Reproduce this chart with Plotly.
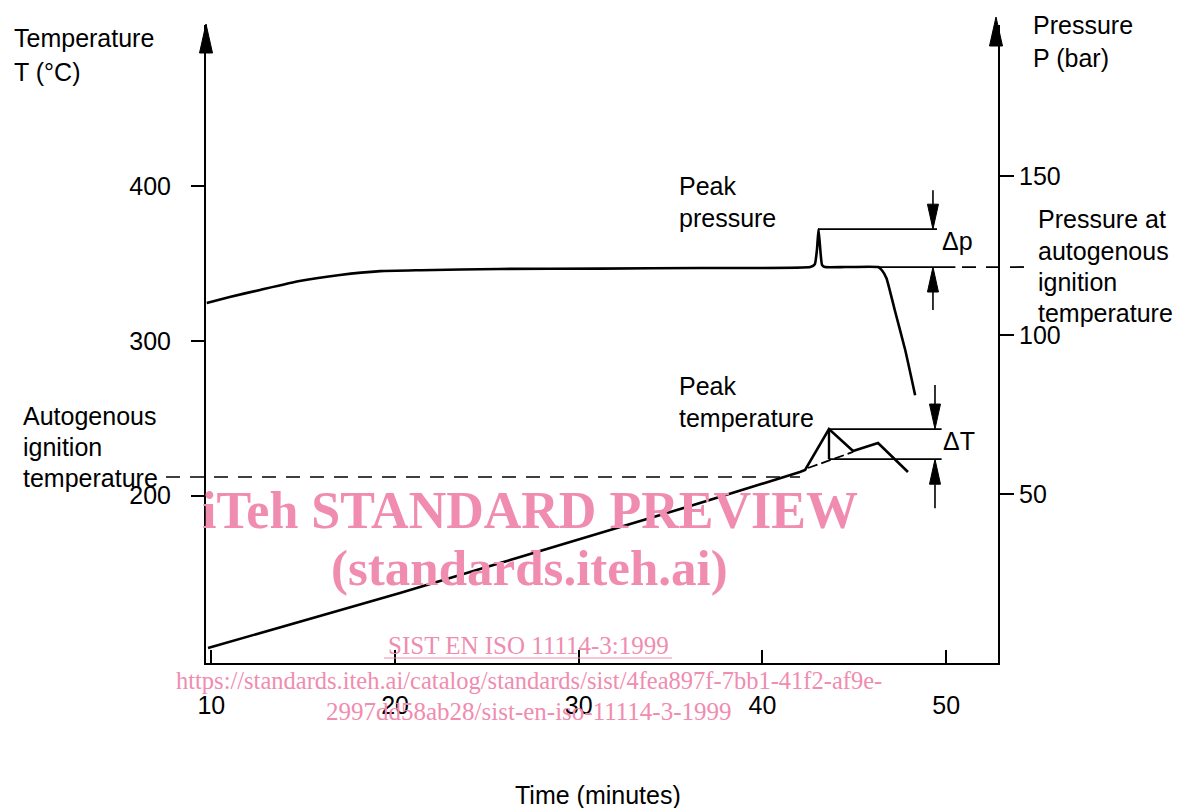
import plotly.graph_objects as go

# ---------------- data ----------------
time_pressure = [9.75, 11.0, 12.65, 14.8, 17.0, 19.2, 21.4, 25.7, 31.2, 36.6, 42.6, 42.85, 42.97, 43.05, 43.13, 43.24, 43.4, 44.5, 46.3, 46.5, 46.75, 47.2, 47.77, 48.31]
pressure_bar = [110.0, 111.9, 114.1, 116.9, 118.8, 120.0, 120.3, 120.7, 120.8, 121.0, 121.3, 122.2, 127.0, 133.2, 128.0, 122.0, 121.3, 121.3, 121.3, 120.3, 117.8, 107.8, 95.2, 81.0]

time_temp = [9.82, 12.65, 14.83, 20.27, 25.72, 31.16, 36.6, 42.04, 42.32, 43.62, 44.93, 46.29, 47.92]
temp_c = [101.3, 111.0, 118.1, 136.9, 156.3, 175.7, 195.1, 215.2, 216.5, 243.0, 228.8, 234.0, 215.2]

extrap_time = [42.48, 44.93]
extrap_temp = [217.8, 228.2]

peak_time = 43.62
peak_pressure = 133.2
pressure_at_ignition = 121.3
peak_temp = 243.0
temp_at_ignition = 223.5
autogenous_ignition_temp = 212.0

x_ticks = [10, 20, 30, 40, 50]
t_ticks = [200, 300, 400]
p_ticks = [50, 100, 150]

# ---------------- layout geometry ----------------
OFF = 8  # page body margin
W, H = 1184 - OFF, 808 - OFF
L, R, T, B = 206 - OFF, 998 - OFF, 25 - OFF, 663 - OFF
x_range = [9.71, 52.82]
t_range = [91.6, 504.5]
p_range = [-3.2, 197.4]

def px(xp):
    return (xp - OFF - L) / (R - L)

def py(yp):
    return (B - (yp - OFF)) / (B - T)

x_per_px = (x_range[1] - x_range[0]) / (R - L)
t_per_px = (t_range[1] - t_range[0]) / (B - T)
p_per_px = (p_range[1] - p_range[0]) / (B - T)

BLACK = "black"
PINK = "rgb(240,140,176)"
FONT = "Liberation Sans, Arial, sans-serif"
SERIF = "Liberation Serif, Times New Roman, serif"

fig = go.Figure()

fig.add_trace(go.Scatter(x=time_pressure, y=pressure_bar, yaxis="y2", mode="lines",
                         line=dict(color=BLACK, width=2.6, shape="spline", smoothing=0.4),
                         showlegend=False, hoverinfo="skip"))
fig.add_trace(go.Scatter(x=time_temp, y=temp_c, mode="lines",
                         line=dict(color=BLACK, width=2.6),
                         showlegend=False, hoverinfo="skip"))
fig.add_trace(go.Scatter(x=extrap_time, y=extrap_temp, mode="lines",
                         line=dict(color=BLACK, width=1.8, dash="10px,4px"),
                         showlegend=False, hoverinfo="skip"))

shapes = []
ln = dict(color=BLACK, width=1.8)

# peak pressure / pressure at ignition lines
x_dp = 49.28
shapes.append(dict(type="line", xref="x", yref="y2", x0=43.02, x1=49.5,
                   y0=peak_pressure, y1=peak_pressure, line=ln))
shapes.append(dict(type="line", xref="x", yref="y2", x0=43.4, x1=50.5,
                   y0=pressure_at_ignition, y1=pressure_at_ignition, line=ln))
# dashed continuation beyond right axis
shapes.append(dict(type="line", xref="paper", yref="y2", x0=px(962), x1=px(1030),
                   y0=pressure_at_ignition, y1=pressure_at_ignition,
                   line=dict(color=BLACK, width=1.8, dash="14px,10px")))

# peak temperature / temperature at ignition lines
x_dt = 49.39
shapes.append(dict(type="line", xref="x", yref="y", x0=peak_time, x1=49.75,
                   y0=peak_temp, y1=peak_temp, line=ln))
shapes.append(dict(type="line", xref="x", yref="y", x0=peak_time, x1=49.75,
                   y0=temp_at_ignition, y1=temp_at_ignition, line=ln))
shapes.append(dict(type="line", xref="x", yref="y", x0=peak_time, x1=peak_time,
                   y0=peak_temp, y1=temp_at_ignition, line=dict(color=BLACK, width=2.4)))

# autogenous ignition temperature dashed leader
shapes.append(dict(type="line", xref="paper", yref="y", x0=px(166), x1=px(800),
                   y0=autogenous_ignition_temp, y1=autogenous_ignition_temp,
                   line=dict(color=BLACK, width=1.6, dash="14px,10px")))

def arrow(x, tip, direction, per_px, yref, shaft):
    """filled narrow triangle; direction -1 means pointing down"""
    hw = 5.5 * x_per_px
    base = tip - direction * 25 * per_px
    end = tip - direction * shaft * per_px
    shapes.append(dict(type="line", xref="x", yref=yref, x0=x, x1=x, y0=base, y1=end,
                       line=dict(color=BLACK, width=1.6)))
    shapes.append(dict(type="path", xref="x", yref=yref,
                       path=f"M{x - hw},{base} L{x + hw},{base} L{x},{tip} Z",
                       fillcolor=BLACK, line=dict(color=BLACK, width=1)))

arrow(x_dp, peak_pressure, -1, p_per_px, "y2", 39)
arrow(x_dp, pressure_at_ignition, 1, p_per_px, "y2", 43)
arrow(x_dt, peak_temp, -1, t_per_px, "y", 44)
arrow(x_dt, temp_at_ignition, 1, t_per_px, "y", 49)

# axis top arrows
def top_arrow(xc, tip_y, base_y):
    hw = 6.5 / (R - L)
    shapes.append(dict(type="path", xref="paper", yref="paper",
                       path=f"M{px(xc) - hw},{py(base_y)} L{px(xc) + hw},{py(base_y)} L{px(xc)},{py(tip_y)} Z",
                       fillcolor=BLACK, line=dict(color=BLACK, width=1)))
    shapes.append(dict(type="line", xref="paper", yref="paper", x0=px(xc), x1=px(xc),
                       y0=py(base_y), y1=1, line=dict(color=BLACK, width=2)))

top_arrow(206, 24, 53)
top_arrow(996, 17, 46)

# underline for watermark line
shapes.append(dict(type="line", xref="paper", yref="paper", x0=px(384), x1=px(672),
                   y0=py(658), y1=py(658), line=dict(color=PINK, width=1.2)))

annotations = []

def txt(s, x, y, size=25, anchor="left", color=BLACK, family=FONT):
    annotations.append(dict(text=s, x=px(x), y=py(y), xref="paper", yref="paper",
                            xanchor=anchor, yanchor="middle", showarrow=False,
                            font=dict(size=size, color=color, family=family)))

txt("Temperature", 12, 38)
txt("T (°C)", 12, 72)
txt("Pressure", 1031, 25)
txt("P (bar)", 1031, 58)
txt("Peak", 677, 186)
txt("pressure", 677, 218)
txt("Peak", 677, 386)
txt("temperature", 677, 418)
txt("Pressure at", 1036, 219)
txt("autogenous", 1036, 251)
txt("ignition", 1036, 282)
txt("temperature", 1036, 313)
txt("Autogenous", 21, 416)
txt("ignition", 21, 447)
txt("temperature", 21, 478)
txt("Δp", 940, 241)
txt("ΔT", 941, 441)
txt("Time (minutes)", 598, 795, anchor="center")

# watermark
txt("<b>iTeh STANDARD PREVIEW</b>", 530, 510, size=52, anchor="center", color=PINK, family=SERIF)
txt("<b>(standards.iteh.ai)</b>", 529, 568, size=51, anchor="center", color=PINK, family=SERIF)
txt("SIST EN ISO 11114-3:1999", 528, 645, size=25, anchor="center", color=PINK, family=SERIF)
txt("https://standards.iteh.ai/catalog/standards/sist/4fea897f-7bb1-41f2-af9e-", 529, 680,
    size=24.5, anchor="center", color=PINK, family=SERIF)
txt("2997dd58ab28/sist-en-iso-11114-3-1999", 529, 711, size=25, anchor="center", color=PINK, family=SERIF)

tickfont = dict(size=25, color=BLACK, family=FONT)

fig.update_layout(
    width=W, height=H,
    margin=dict(l=L, r=W - R, t=T, b=H - B, pad=0),
    paper_bgcolor="white", plot_bgcolor="white",
    showlegend=False,
    xaxis=dict(range=x_range, tickvals=x_ticks, ticks="inside", ticklen=13, tickwidth=2,
               tickcolor=BLACK, showline=True, linecolor=BLACK, linewidth=2,
               showgrid=False, zeroline=False, tickfont=tickfont, ticklabelstandoff=19),
    yaxis=dict(range=t_range, tickvals=t_ticks, ticks="outside", ticklen=13, tickwidth=2,
               tickcolor=BLACK, showline=True, linecolor=BLACK, linewidth=2,
               showgrid=False, zeroline=False, tickfont=tickfont, ticklabelstandoff=15),
    yaxis2=dict(range=p_range, tickvals=p_ticks, ticks="outside", ticklen=14, tickwidth=2,
                tickcolor=BLACK, showline=True, linecolor=BLACK, linewidth=2,
                showgrid=False, zeroline=False, tickfont=tickfont, overlaying="y",
                side="right", ticklabelstandoff=0),
    shapes=shapes,
    annotations=annotations,
)

fig.write_html("out.html")
